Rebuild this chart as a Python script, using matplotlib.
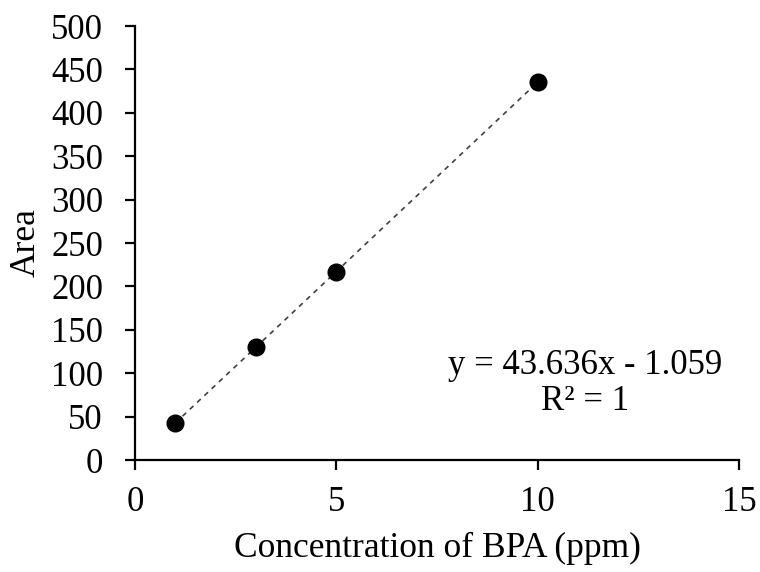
import numpy as np
import matplotlib.pyplot as plt

plt.rcParams['font.family'] = ['Liberation Serif', 'DejaVu Serif']

# calibration standards
conc = [1, 3, 5, 10]
area = [42.6, 129.8, 217.1, 435.3]

# linear fit as reported
slope = 43.636
intercept = -1.059
r_squared = 1

fig = plt.figure(figsize=(7.6, 5.72), dpi=100)
ax = fig.add_axes([0.1776, 0.1958, 0.7948, 0.7587])

fit_x = np.array([min(conc), max(conc)])
ax.plot(fit_x, slope * fit_x + intercept, linestyle=(0, (3, 3)), color='#404040',
        linewidth=1.2, zorder=2)
ax.plot(conc, area, 'o', color='black', markersize=12, zorder=3)

ax.set_xlim(0, 15)
ax.set_ylim(0, 500)
ax.set_xticks([0, 5, 10, 15])
ax.set_yticks(np.arange(0, 501, 50))

for side in ['top', 'right']:
    ax.spines[side].set_visible(False)
for side in ['left', 'bottom']:
    ax.spines[side].set_linewidth(1.6)
ax.tick_params(direction='out', length=7, width=1.6, labelsize=25)
ax.tick_params(axis='y', pad=16)
ax.tick_params(axis='x', pad=12)

ax.set_xlabel('Concentration of BPA (ppm)', fontsize=25.5, labelpad=9)
ax.set_ylabel('Area', fontsize=25.5, labelpad=6)

ax.text(11.17, 88, 'y = %.3fx - %.3f\nR² = %d' % (slope, -intercept, r_squared),
        fontsize=25, ha='center', va='center', linespacing=1.15)

fig.savefig('out.png', dpi=100)
